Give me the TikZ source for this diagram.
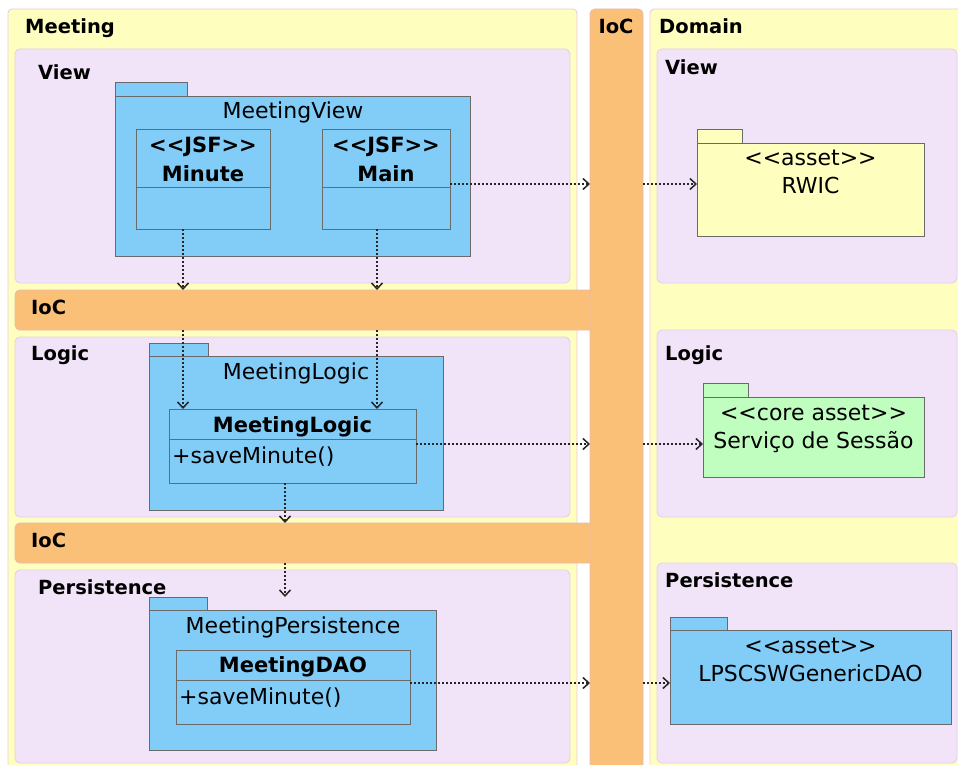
\documentclass[tikz,border=0pt]{standalone}
\usepackage{fontspec}
\setmainfont{DejaVu Sans}[Ligatures=TeXOff]
\usetikzlibrary{arrows.meta}

\definecolor{lane}{HTML}{FEFEBE}
\definecolor{laneedge}{HTML}{E8CCE4}
\definecolor{layer}{HTML}{F1E4F8}
\definecolor{layeredge}{HTML}{E6CFE8}
\definecolor{ioc}{HTML}{FBC077}
\definecolor{iocedge}{HTML}{EBB8B0}
\definecolor{pkgblue}{HTML}{81CDF8}
\definecolor{pkggreen}{HTML}{BFFEBF}
\definecolor{pkgyellow}{HTML}{FEFEBE}
\definecolor{edge}{HTML}{6A6A6A}

\tikzset{
  area/.style={anchor=north west, inner sep=0pt, outer sep=0pt, line width=0.9pt},
  lanebox/.style={area, fill=lane, draw=laneedge, rounded corners=4pt},
  layerbox/.style={area, fill=layer, draw=layeredge, rounded corners=5pt},
  iocbox/.style={area, fill=ioc, draw=iocedge, rounded corners=5pt},
  pkg/.style={area, fill=#1, draw=edge, line width=0.8pt},
  cls/.style={area, fill=pkgblue, draw=edge, line width=0.8pt},
  txt/.style={inner sep=0pt, text height=0.73em, text depth=0pt, yshift=-4pt},
  title/.style={txt, anchor=west, font=\fontsize{19.5}{22}\selectfont\bfseries},
  pname/.style={txt, font=\fontsize{22}{26}\selectfont},
  bname/.style={txt, font=\fontsize{21}{25}\selectfont\bfseries},
  dep/.style={draw=black!85, line width=1.2pt, dash pattern=on 2pt off 2pt,
    -{Straight Barb[length=6pt,width=11pt,line width=1.5pt]}}
}

\begin{document}
\begin{tikzpicture}[x=1pt,y=-1pt]
\useasboundingbox (0,0) rectangle (958,765);

% swimlanes
\node[lanebox, minimum width=569pt, minimum height=770pt] (meeting) at (8,9) {};
\node[lanebox, minimum width=320pt, minimum height=770pt] (domain) at (650,9) {};

% horizontal IoC bands, then the vertical one on top
\node[iocbox, minimum width=585pt, minimum height=40pt] (iocA) at (15,290) {};
\node[iocbox, minimum width=585pt, minimum height=40pt] (iocB) at (15,523) {};
\node[iocbox, minimum width=53pt, minimum height=770pt] (iocv) at (590,9) {};

% layers
\node[layerbox, minimum width=555pt, minimum height=234pt] (meetView) at (15,49) {};
\node[layerbox, minimum width=555pt, minimum height=180pt] (meetLogic) at (15,337) {};
\node[layerbox, minimum width=555pt, minimum height=193pt] (meetPers) at (15,570) {};
\node[layerbox, minimum width=300pt, minimum height=234pt] (domView) at (657,49) {};
\node[layerbox, minimum width=300pt, minimum height=187pt] (domLogic) at (657,330) {};
\node[layerbox, minimum width=300pt, minimum height=200pt] (domPers) at (657,563) {};

% titles
\node[title] (tMeeting) at (25,26) {Meeting};
\node[title, anchor=center] (tIoC) at (616,26) {IoC};
\node[title] (tDomain) at (659,26) {Domain};
\node[title] (tView) at (38,72) {View};
\node[title] (tIoCa) at (31,307) {IoC};
\node[title] (tLogic) at (31,353) {Logic};
\node[title] (tIoCb) at (31,540) {IoC};
\node[title] (tPers) at (38,587) {Persistence};
\node[title] (tDView) at (665,67) {View};
\node[title] (tDLogic) at (665,353) {Logic};
\node[title] (tDPers) at (665,580) {Persistence};

% MeetingView package
\node[pkg=pkgblue, minimum width=72pt, minimum height=14pt] (mvTab) at (115,82) {};
\node[pkg=pkgblue, minimum width=355pt, minimum height=160pt] (mvBody) at (115,96) {};
\node[pname] (mvName) at (293,111) {MeetingView};
\node[cls, minimum width=134pt, minimum height=58pt] (minuteHead) at (136,129) {};
\node[cls, minimum width=134pt, minimum height=42pt] (minuteBody) at (136,187) {};
\node[bname] (minuteSt) at (203,145) {<<JSF>>};
\node[bname] (minuteName) at (203,174) {Minute};
\node[cls, minimum width=128pt, minimum height=58pt] (mainHead) at (322,129) {};
\node[cls, minimum width=128pt, minimum height=42pt] (mainBody) at (322,187) {};
\node[bname] (mainSt) at (386,145) {<<JSF>>};
\node[bname] (mainName) at (386,174) {Main};

% MeetingLogic package
\node[pkg=pkgblue, minimum width=59pt, minimum height=13pt] (mlTab) at (149,343) {};
\node[pkg=pkgblue, minimum width=294pt, minimum height=154pt] (mlBody) at (149,356) {};
\node[pname] (mlName) at (296,372) {MeetingLogic};
\node[cls, minimum width=247pt, minimum height=30pt] (mlHead) at (169,409) {};
\node[cls, minimum width=247pt, minimum height=44pt] (mlOps) at (169,439) {};
\node[bname] (mlClass) at (292.5,425) {MeetingLogic};
\node[pname, anchor=west] (mlOp) at (172,456) {+saveMinute()};

% MeetingPersistence package
\node[pkg=pkgblue, minimum width=58pt, minimum height=13pt] (mpTab) at (149,597) {};
\node[pkg=pkgblue, minimum width=287pt, minimum height=140pt] (mpBody) at (149,610) {};
\node[pname] (mpName) at (293,626) {MeetingPersistence};
\node[cls, minimum width=234pt, minimum height=30pt] (daoHead) at (176,650) {};
\node[cls, minimum width=234pt, minimum height=44pt] (daoOps) at (176,680) {};
\node[bname] (daoClass) at (293,665) {MeetingDAO};
\node[pname, anchor=west] (daoOp) at (179,697) {+saveMinute()};

% Domain assets
\node[pkg=pkgyellow, minimum width=45pt, minimum height=14pt] (rwicTab) at (697,129) {};
\node[pkg=pkgyellow, minimum width=227pt, minimum height=93pt] (rwicBody) at (697,143) {};
\node[pname] (rwicSt) at (810.5,158) {<<asset>>};
\node[pname] (rwicName) at (810.5,186) {RWIC};

\node[pkg=pkggreen, minimum width=45pt, minimum height=14pt] (sessTab) at (703,383) {};
\node[pkg=pkggreen, minimum width=221pt, minimum height=80pt] (sessBody) at (703,397) {};
\node[pname] (sessSt) at (813.5,413) {<<core asset>>};
\node[pname] (sessName) at (813.5,441) {Serviço de Sessão};

\node[pkg=pkgblue, minimum width=57pt, minimum height=13pt] (genTab) at (670,617) {};
\node[pkg=pkgblue, minimum width=281pt, minimum height=94pt] (genBody) at (670,630) {};
\node[pname] (genSt) at (810.5,646) {<<asset>>};
\node[pname] (genName) at (810.5,674) {LPSCSWGenericDAO};

% connector columns and rows
\coordinate (colA) at (183,0);
\coordinate (colB) at (377,0);
\coordinate (colC) at (285,0);
\coordinate (rowV) at (0,184);
\coordinate (rowL) at (0,444);
\coordinate (rowP) at (0,683);

% dependencies
\draw[dep] (minuteBody.south -| colA) -- (iocA.north -| colA);
\draw[dep] (mainBody.south -| colB) -- (iocA.north -| colB);
\draw[dep] (iocA.south -| colA) -- (mlHead.north -| colA);
\draw[dep] (iocA.south -| colB) -- (mlHead.north -| colB);
\draw[dep] (mlOps.south -| colC) -- (iocB.north -| colC);
\draw[dep] (iocB.south -| colC) -- (mpTab.north -| colC);

\draw[dep] (mainHead.east |- rowV) -- (iocv.west |- rowV);
\draw[dep] (iocv.east |- rowV) -- (rwicBody.west |- rowV);
\draw[dep] (mlOps.east |- rowL) -- (iocv.west |- rowL);
\draw[dep] (iocv.east |- rowL) -- (sessBody.west |- rowL);
\draw[dep] (daoOps.east |- rowP) -- (iocv.west |- rowP);
\draw[dep] (iocv.east |- rowP) -- (genBody.west |- rowP);
\end{tikzpicture}
\end{document}
